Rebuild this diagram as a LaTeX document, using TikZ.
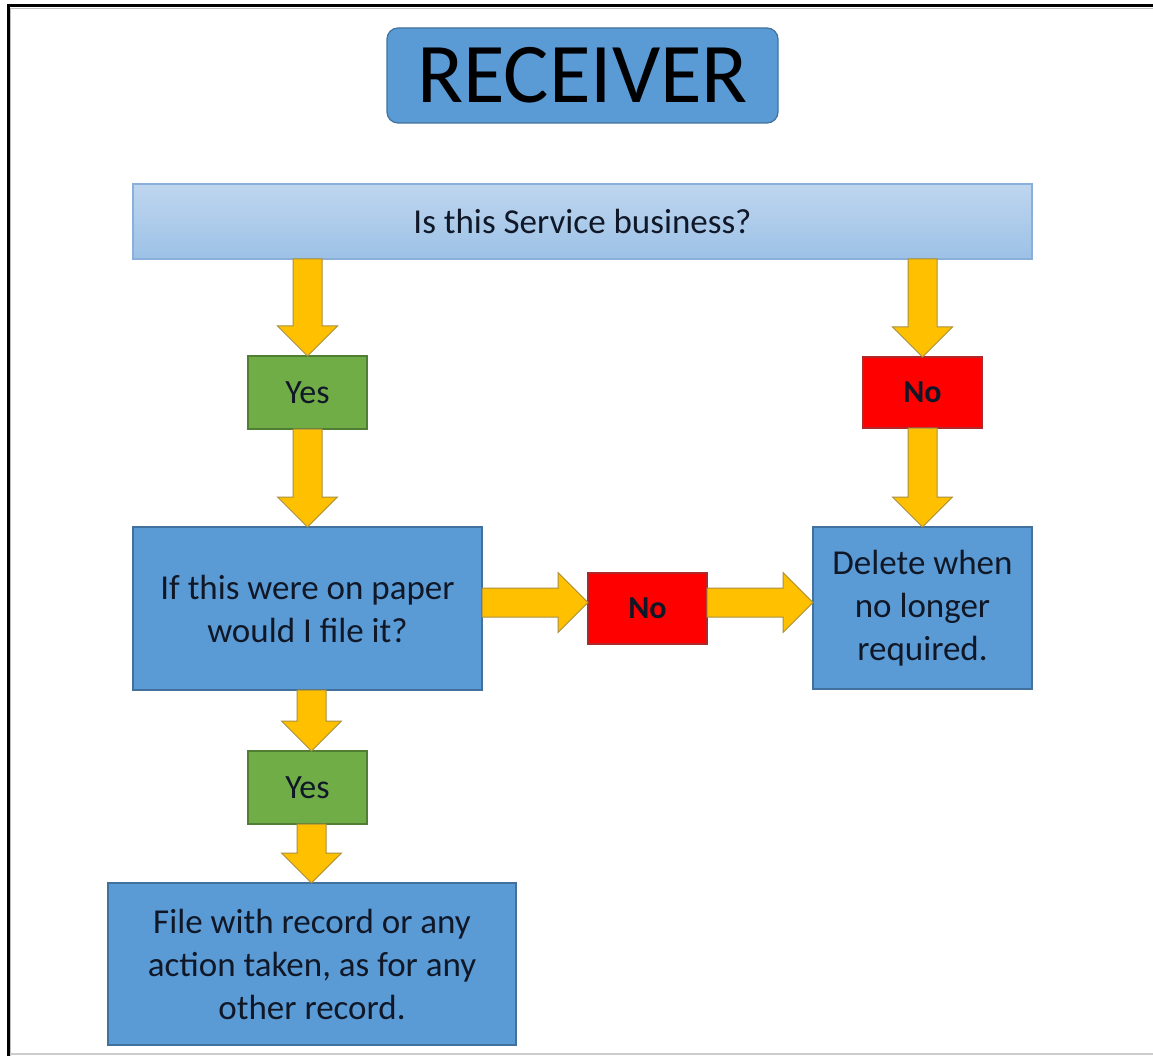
\documentclass[tikz,border=0pt]{standalone}
\usepackage{fontspec}
\setmainfont{Carlito}
\usetikzlibrary{calc}
\definecolor{bluefill}{HTML}{5B9BD5}
\definecolor{blueline}{HTML}{41719C}
\definecolor{bartop}{HTML}{BFD6EF}
\definecolor{barbot}{HTML}{9CC1E6}
\definecolor{barline}{HTML}{8AAFDA}
\definecolor{greenfill}{HTML}{70AD47}
\definecolor{greenline}{HTML}{507E32}
\definecolor{redfill}{HTML}{FF0000}
\definecolor{redline}{HTML}{B02828}
\definecolor{arrowfill}{HTML}{FFC000}
\definecolor{arrowline}{HTML}{A89040}
\definecolor{inktext}{HTML}{101828}
\begin{document}
\begin{tikzpicture}[x=1pt,y=-1pt,
  box/.style={anchor=north west, inner sep=0pt, outer sep=0pt, line width=1.2pt,
    align=center, font=\fontsize{35}{43}\selectfont, text=inktext},
  bluebox/.style={box, fill=bluefill, draw=blueline},
  yesbox/.style={box, fill=greenfill, draw=greenline, minimum width=119pt, minimum height=73pt,
    font=\fontsize{34}{40}\selectfont},
  nobox/.style={box, fill=redfill, draw=redline, minimum width=119pt, minimum height=71pt,
    font=\fontsize{32}{40}\selectfont\bfseries},
  blockarr/.style={fill=arrowfill, draw=arrowline, line width=1pt, line join=miter,
    to path={
      ($(\tikztostart)!14.5pt!90:(\tikztotarget)$)
      -- ($($(\tikztotarget)!30pt!(\tikztostart)$)!14.5pt!90:(\tikztotarget)$)
      -- ($($(\tikztotarget)!30pt!(\tikztostart)$)!30pt!90:(\tikztotarget)$)
      -- (\tikztotarget)
      -- ($($(\tikztotarget)!30pt!(\tikztostart)$)!30pt!-90:(\tikztotarget)$)
      -- ($($(\tikztotarget)!30pt!(\tikztostart)$)!14.5pt!-90:(\tikztotarget)$)
      -- ($(\tikztostart)!14.5pt!-90:(\tikztotarget)$)
      -- cycle}}
]
\useasboundingbox[fill=white] (0,0) rectangle (1153,1056);
% frame
\draw[line width=3pt, black] (7,6) -- (1153,6);
\draw[line width=3pt, black] (8,6) -- (8,1056);
\draw[line width=1pt, black!25] (10,8.5) -- (1153,8.5);
\draw[line width=1pt, black!25] (10.5,8) -- (10.5,1056);
\draw[line width=1.5pt, black!20] (10,1054) -- (1153,1054);

% nodes
\node[box, fill=bluefill, draw=blueline, rounded corners=11pt, minimum width=391pt, minimum height=95pt,
  font=\fontsize{85}{90}\selectfont, text=black] (title) at (387,28) {RECEIVER};
\node[box, top color=bartop, bottom color=barbot, draw=barline, minimum width=899pt, minimum height=75pt]
  (top) at (133,184) {Is this Service business?};
\node[yesbox] (yes1) at (248,356) {Yes};
\node[nobox] (no1) at (863,357) {No};
\node[bluebox, minimum width=349pt, minimum height=163pt] (paper) at (133,527)
  {If this were on paper\\would I file it?};
\node[bluebox, minimum width=219pt, minimum height=162pt] (delete) at (813,527)
  {Delete when\\no longer\\required.};
\node[nobox] (no2) at (588,573) {No};
\node[yesbox] (yes2) at (248,751) {Yes};
\node[bluebox, minimum width=408pt, minimum height=162pt] (final) at (108,883)
  {File with record or any\\action taken, as for any\\other record.};

% connectors
\draw[blockarr] (yes1.north |- top.south) to (yes1.north);
\draw[blockarr] (no1.north |- top.south) to (no1.north);
\draw[blockarr] (yes1.south) to (yes1.south |- paper.north);
\draw[blockarr] (no1.south) to (no1.south |- delete.north);
\coordinate (h1) at ([yshift=6pt]paper.east);
\coordinate (h2) at ([yshift=6pt]no2.east);
\draw[blockarr] (h1) to (h1 -| no2.west);
\draw[blockarr] (h2) to (h2 -| delete.west);
\coordinate (v1) at ([xshift=4pt]paper.south);
\draw[blockarr] (v1) to (v1 |- yes2.north);
\coordinate (v2) at ([xshift=4pt]yes2.south);
\draw[blockarr] (v2) to (v2 |- final.north);
\end{tikzpicture}
\end{document}
